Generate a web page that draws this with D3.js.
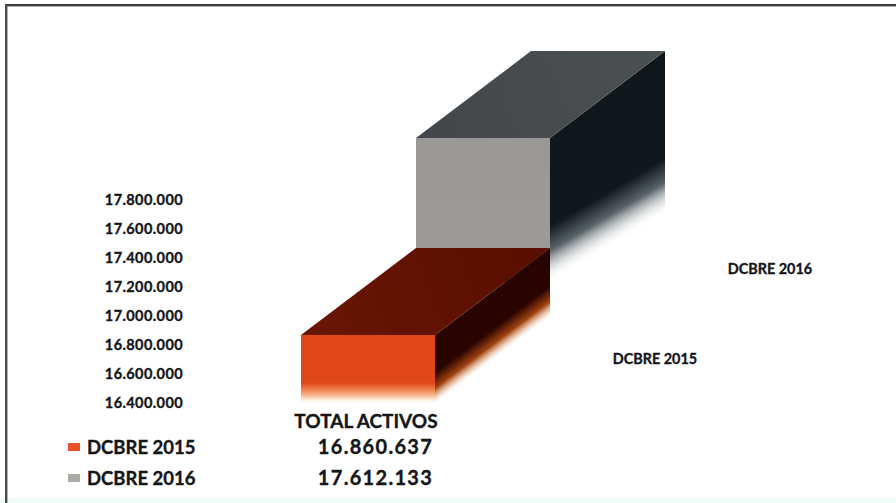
<!DOCTYPE html>
<html>
<head>
<meta charset="utf-8">
<script src="https://cdn.jsdelivr.net/npm/d3@7/dist/d3.min.js"></script>
<style>
  html, body { margin: 0; padding: 0; background: #fff; }
  svg { display: block; }
  text { font-family: Lato, "Noto Sans", sans-serif; font-weight: 700; fill: #14161a; stroke: #14161a; stroke-width: 0.35px; }
</style>
</head>
<body>
<svg id="chart" width="896" height="503"></svg>
<script>
// Total assets at two December closes, drawn as extruded columns.
const categories = ["DCBRE 2015", "DCBRE 2016"];
const totalActivos = [16860637, 17612133];
const fadeFloors = [16600000, 17060000];
const axisTicks = [17800000, 17600000, 17400000, 17200000, 17000000, 16800000, 16600000, 16400000];
const tableTitle = "TOTAL ACTIVOS";
const swatchColors = ["#e8502a", "#a9aca6"];

const faceColors = [
  { front: "#e0481c", top: "#6a1604", topBack: "#580e00", side: "#2a0400",
    frontStops: [[0.70, "#e0481c", 1], [0.80, "#ee8048", 1], [0.90, "#f6bd94", 0.9], [1, "#fbe4d2", 0]],
    sideStops: [[0, "#2a0400", 1], [0.55, "#2a0400", 1], [0.78, "#a0420f", 1], [1, "#f2b080", 0]] },
  { front: "#9a9896", top: "#43464a", topBack: "#4b5052", side: "#10181b",
    frontStops: [[0, "#9a9896", 1], [1, "#9d9b99", 1]],
    sideStops: [[0, "#10181b", 1], [0.61, "#10181b", 1], [0.78, "#5b6468", 1], [1, "#ffffff", 0]] }
];

const svg = d3.select("#chart");
const fmt = d3.formatLocale({ decimal: ",", thousands: ".", grouping: [3], currency: ["", ""] }).format(",d");

// Scales: the columns sit on a steeper plane than the printed value axis.
const barY = d3.scaleLinear().domain([16400000, 17800000]).range([455.75, 88.75]);
const axisY = d3.scaleLinear().domain([16400000, 17800000]).range([403, 200]);
const barX = d3.scalePoint().domain(categories).range([301, 416]);
const barWidth = 134, depthX = 115, depthY = -87;
const fadeRise = [87, 68]; // how far the fade line climbs across each side face

// Frame of the panel
const frame = svg.append("g");
frame.append("rect").attr("x", 0).attr("y", 498).attr("width", 896).attr("height", 5).attr("fill", "#eefbf8");
frame.append("rect").attr("x", 5).attr("y", 4).attr("width", 891).attr("height", 2.4).attr("fill", "#3b3d3d");
frame.append("rect").attr("x", 5).attr("y", 4).attr("width", 2.4).attr("height", 499).attr("fill", "#4a4a4a");

const defs = svg.append("defs");
const addStops = (grad, stops) => stops.forEach(([o, c, a]) =>
  grad.append("stop").attr("offset", o).attr("stop-color", c).attr("stop-opacity", a));

const poly = pts => "M" + pts.map(p => p.join(",")).join("L") + "Z";
const bars = svg.append("g");

// The rear column is painted first so the nearer column's top covers its foot.
d3.range(categories.length).reverse().forEach(i => {
  const cat = categories[i];
  const x0 = barX(cat), x1 = x0 + barWidth;
  const yTop = barY(totalActivos[i]), yEnd = barY(fadeFloors[i]);
  const c = faceColors[i];
  const g = bars.append("g").attr("class", "bar");

  // Side gradient is sheared so the fade cuts diagonally across the face.
  const k = -fadeRise[i] / depthX;
  const sideGrad = defs.append("linearGradient").attr("id", "side" + i)
    .attr("gradientUnits", "userSpaceOnUse")
    .attr("x1", 0).attr("x2", 0).attr("y1", yTop).attr("y2", yEnd)
    .attr("gradientTransform", `matrix(1,${k},0,1,0,${-k * x1})`);
  addStops(sideGrad, c.sideStops);

  const frontGrad = defs.append("linearGradient").attr("id", "front" + i)
    .attr("gradientUnits", "userSpaceOnUse")
    .attr("x1", 0).attr("x2", 0).attr("y1", yTop).attr("y2", yEnd);
  addStops(frontGrad, c.frontStops);

  const topGrad = defs.append("linearGradient").attr("id", "top" + i)
    .attr("gradientUnits", "userSpaceOnUse")
    .attr("x1", x0).attr("x2", x1 + depthX).attr("y1", yTop).attr("y2", yTop + depthY);
  addStops(topGrad, [[0, c.top, 1], [1, c.topBack, 1]]);

  g.append("path").attr("fill", `url(#side${i})`)
    .attr("d", poly([[x1, yTop], [x1 + depthX, yTop + depthY], [x1 + depthX, yEnd - fadeRise[i]], [x1, yEnd]]));
  g.append("path").attr("fill", `url(#front${i})`)
    .attr("d", poly([[x0, yTop], [x1, yTop], [x1, yEnd], [x0, yEnd]]));
  g.append("path").attr("fill", `url(#top${i})`)
    .attr("d", poly([[x0, yTop], [x1, yTop], [x1 + depthX, yTop + depthY], [x0 + depthX, yTop + depthY]]));
});

// Value axis: labels only
const axis = svg.append("g").attr("transform", "translate(183,0)")
  .call(d3.axisLeft(axisY).tickValues(axisTicks).tickFormat(fmt).tickSize(0).tickPadding(0));
axis.select(".domain").remove();
axis.selectAll("text").style("font-family", "Lato").style("font-weight", 700)
  .style("font-size", "14.5px").style("letter-spacing", "0.4px").attr("fill", "#14161a");

// Series names beside the columns
const seriesLabels = [[655, 360], [770, 270]];
svg.append("g").selectAll("text").data(categories).join("text")
  .attr("x", (d, i) => seriesLabels[i][0]).attr("y", (d, i) => seriesLabels[i][1])
  .attr("text-anchor", "middle").attr("dominant-baseline", "middle")
  .style("font-size", "14.4px").text(d => d);

// Data table under the chart
const rowY = d3.scalePoint().domain(categories).range([449, 480]);
const table = svg.append("g");
table.append("text").attr("x", 366).attr("y", 423).attr("text-anchor", "middle")
  .attr("dominant-baseline", "middle").style("font-size", "19px").text(tableTitle);
const rows = table.selectAll("g").data(categories).join("g")
  .attr("transform", d => `translate(0,${rowY(d)})`);
rows.append("rect").attr("x", 68).attr("y", -6).attr("width", 12).attr("height", 8)
  .attr("fill", (d, i) => swatchColors[i]);
rows.append("text").attr("x", 87).attr("dominant-baseline", "middle")
  .style("font-size", "18.5px").text(d => d);
rows.append("text").attr("x", 375.5).attr("text-anchor", "middle").attr("dominant-baseline", "middle")
  .style("font-size", "20px").style("letter-spacing", "1.3px").text((d, i) => fmt(totalActivos[i]));
</script>
</body>
</html>
